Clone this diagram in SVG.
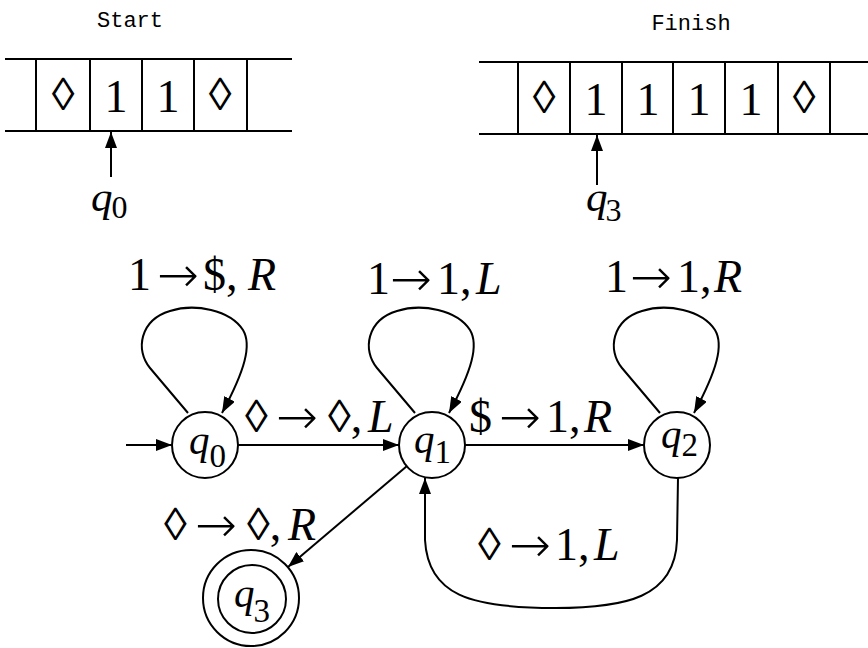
<svg xmlns="http://www.w3.org/2000/svg" width="868" height="648" viewBox="0 0 868 648">
<defs>
<style>
.ln{stroke:#000;stroke-width:2;fill:none}
.node{stroke:#000;stroke-width:2;fill:#fff}
.lab{font-family:"Liberation Serif","DejaVu Serif",serif;font-size:46px;fill:#000}
.it{font-style:italic}
.arr{font-family:"DejaVu Sans",sans-serif;font-size:50px;font-weight:200}
.q{font-family:"Liberation Serif","DejaVu Serif",serif;font-size:41px;font-style:italic;fill:#000}
.sub{font-style:normal;font-size:33px}
.cap{font-family:"Liberation Mono","DejaVu Sans Mono",monospace;font-size:22px;fill:#000}
.edge{stroke:#000;stroke-width:2;fill:none;marker-end:url(#ah)}
</style>
<marker id="ah" viewBox="0 0 16 12" refX="16" refY="6" markerWidth="16" markerHeight="12" markerUnits="userSpaceOnUse" orient="auto">
<path d="M0,0 L16,6 L0,12 z" fill="#000"/>
</marker>
</defs>
<rect width="868" height="648" fill="#fff"/>

<g id="tape-start">
<text class="cap" x="130" y="27" text-anchor="middle">Start</text>
<line class="ln" x1="5" y1="59" x2="292" y2="59"/>
<line class="ln" x1="5" y1="131" x2="292" y2="131"/>
<line class="ln" x1="36" y1="59" x2="36" y2="131"/>
<line class="ln" x1="90" y1="59" x2="90" y2="131"/>
<line class="ln" x1="142" y1="59" x2="142" y2="131"/>
<line class="ln" x1="194" y1="59" x2="194" y2="131"/>
<line class="ln" x1="247" y1="59" x2="247" y2="131"/>
<text class="lab" x="63" y="110" text-anchor="middle">◊</text>
<text class="lab" x="116" y="112" text-anchor="middle">1</text>
<text class="lab" x="168" y="112" text-anchor="middle">1</text>
<text class="lab" x="220" y="110" text-anchor="middle">◊</text>
<line class="edge" x1="111" y1="177" x2="111" y2="132"/>
<text class="q" x="91" y="211" style="font-size:43px">q<tspan class="sub" dx="-1" dy="7" style="font-size:32px">0</tspan></text>
</g>

<g id="tape-finish">
<text class="cap" x="691" y="30" text-anchor="middle">Finish</text>
<line class="ln" x1="479" y1="62" x2="868" y2="62"/>
<line class="ln" x1="479" y1="134" x2="868" y2="134"/>
<line class="ln" x1="518" y1="62" x2="518" y2="134"/>
<line class="ln" x1="570" y1="62" x2="570" y2="134"/>
<line class="ln" x1="622" y1="62" x2="622" y2="134"/>
<line class="ln" x1="673" y1="62" x2="673" y2="134"/>
<line class="ln" x1="725" y1="62" x2="725" y2="134"/>
<line class="ln" x1="778" y1="62" x2="778" y2="134"/>
<line class="ln" x1="830" y1="62" x2="830" y2="134"/>
<text class="lab" x="544" y="113" text-anchor="middle">◊</text>
<text class="lab" x="596" y="115" text-anchor="middle">1</text>
<text class="lab" x="648" y="115" text-anchor="middle">1</text>
<text class="lab" x="699" y="115" text-anchor="middle">1</text>
<text class="lab" x="751" y="115" text-anchor="middle">1</text>
<text class="lab" x="804" y="113" text-anchor="middle">◊</text>
<line class="edge" x1="597" y1="185" x2="597" y2="135"/>
<text class="q" x="586" y="211" style="font-size:43px">q<tspan class="sub" dx="-2" dy="10" style="font-size:32px">3</tspan></text>
</g>

<g id="connectors">
<line class="edge" x1="126" y1="445" x2="172" y2="445"/>
<line class="edge" x1="238" y1="445" x2="399" y2="445"/>
<line class="edge" x1="465" y1="445" x2="644" y2="445"/>
<line class="edge" x1="407" y1="466" x2="288" y2="567"/>
<path class="edge" d="M188 413 L150 368 C135 350 140 320 170 311 C195 303 230 310 243 330 C252 345 245 370 222 413"/>
<path class="edge" d="M415 413 L377 368 C362 350 367 320 397 311 C422 303 457 310 470 330 C479 345 472 370 449 413"/>
<path class="edge" d="M660 413 L622 368 C607 350 612 320 642 311 C667 303 702 310 715 330 C724 345 717 370 694 413"/>
<path class="edge" d="M678 478 L677 540 C675 598 625 608 555 608 C470 608 428 595 425 540 L425 478"/>

<text class="lab" y="290"><tspan x="128">1</tspan> <tspan class="arr" x="157" y="292">→</tspan> <tspan x="203" y="290">$,</tspan> <tspan class="it" x="248">R</tspan></text>
<text class="lab" y="294"><tspan x="367">1</tspan> <tspan class="arr" x="390" y="296">→</tspan> <tspan x="437" y="294">1,</tspan> <tspan class="it" x="476">L</tspan></text>
<text class="lab" y="292"><tspan x="605">1</tspan> <tspan class="arr" x="630" y="294">→</tspan> <tspan x="677" y="292">1,</tspan> <tspan class="it" x="714">R</tspan></text>
<text class="lab" y="432"><tspan x="245">◊</tspan> <tspan class="arr" x="276" y="434">→</tspan> <tspan x="328" y="432">◊,</tspan> <tspan class="it" x="368">L</tspan></text>
<text class="lab" y="432"><tspan x="469">$</tspan> <tspan class="arr" x="499" y="434">→</tspan> <tspan x="546" y="432">1,</tspan> <tspan class="it" x="584">R</tspan></text>
<text class="lab" y="540"><tspan x="164">◊</tspan> <tspan class="arr" x="195" y="542">→</tspan> <tspan x="247" y="540">◊,</tspan> <tspan class="it" x="288">R</tspan></text>
<text class="lab" y="560"><tspan x="478">◊</tspan> <tspan class="arr" x="509" y="562">→</tspan> <tspan x="555" y="560">1,</tspan> <tspan class="it" x="594">L</tspan></text>
</g>

<g id="q0">
<circle class="node" cx="205" cy="445" r="33"/>
<text class="q" x="189" y="454">q<tspan class="sub" dx="0" dy="13">0</tspan></text>
</g>
<g id="q1">
<circle class="node" cx="432" cy="445" r="33"/>
<text class="q" x="414" y="453">q<tspan class="sub" dx="0" dy="10">1</tspan></text>
</g>
<g id="q2">
<circle class="node" cx="677" cy="445" r="33"/>
<text class="q" x="661" y="448">q<tspan class="sub" dx="0" dy="8">2</tspan></text>
</g>
<g id="q3">
<circle class="node" cx="251" cy="598" r="48"/>
<circle class="node" cx="252" cy="599" r="34"/>
<text class="q" x="234" y="607">q<tspan class="sub" dx="-1" dy="15">3</tspan></text>
</g>
</svg>
